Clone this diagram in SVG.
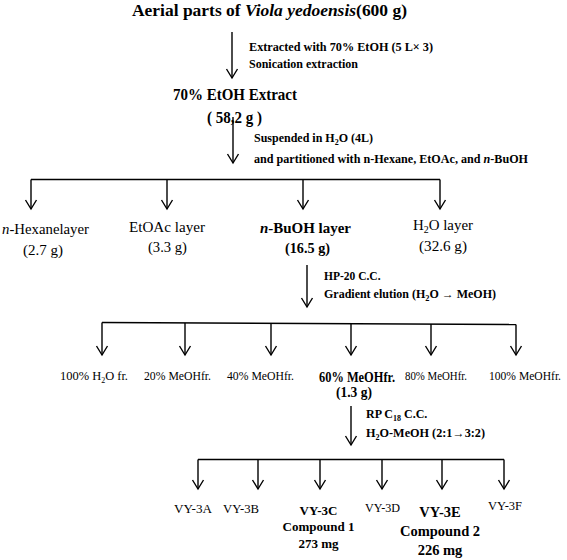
<svg xmlns="http://www.w3.org/2000/svg" width="567" height="560" viewBox="0 0 567 560">
<defs>
<marker id="ah" markerUnits="userSpaceOnUse" markerWidth="20" markerHeight="20" refX="0" refY="0" orient="auto" overflow="visible">
<path d="M-9,-5.5 L0,0 L-9,5.5" fill="none" stroke="#000" stroke-width="1.4"/>
</marker>
</defs>
<style>
text{font-family:"Liberation Serif","Times New Roman",serif;fill:#000}
.b{font-weight:bold}
.i{font-style:italic}
.ln{stroke:#000;stroke-width:1.4;fill:none}
.ar{stroke:#000;stroke-width:1.4;fill:none;marker-end:url(#ah)}
</style>
<rect width="567" height="560" fill="#fff"/>
<g id="connectors">
<line class="ar" x1="232" y1="32" x2="232" y2="78"/>
<line class="ar" x1="233" y1="117" x2="233" y2="163"/>
<line class="ln" x1="31" y1="179.5" x2="440" y2="179.5"/>
<line class="ar" x1="31" y1="179.5" x2="31" y2="209"/>
<line class="ar" x1="167" y1="179.5" x2="167" y2="209"/>
<line class="ar" x1="303" y1="179.5" x2="303" y2="209"/>
<line class="ar" x1="440" y1="179.5" x2="440" y2="209"/>
<line class="ar" x1="307" y1="265" x2="307" y2="307"/>
<line class="ln" x1="102" y1="322.5" x2="516" y2="324.5"/>
<line class="ar" x1="102" y1="322.5" x2="102" y2="355"/>
<line class="ar" x1="185" y1="323" x2="185" y2="355"/>
<line class="ar" x1="271" y1="323.5" x2="271" y2="355"/>
<line class="ar" x1="351" y1="323.5" x2="351" y2="355"/>
<line class="ar" x1="431" y1="324" x2="431" y2="355"/>
<line class="ar" x1="516" y1="324.5" x2="516" y2="355"/>
<line class="ar" x1="351" y1="406" x2="351" y2="445"/>
<line class="ln" x1="198" y1="459.5" x2="504" y2="459.5"/>
<line class="ar" x1="198" y1="459.5" x2="198" y2="489"/>
<line class="ar" x1="258" y1="459.5" x2="258" y2="489"/>
<line class="ar" x1="320" y1="459.5" x2="320" y2="489"/>
<line class="ar" x1="382" y1="459.5" x2="382" y2="489"/>
<line class="ar" x1="442" y1="459.5" x2="442" y2="489"/>
<line class="ar" x1="504" y1="459.5" x2="504" y2="489"/>
</g>
<g id="step-labels" class="b" font-size="12">
<text x="249" y="51" textLength="184" lengthAdjust="spacingAndGlyphs">Extracted with 70% EtOH (5 L× 3)</text>
<text x="249" y="68" textLength="109" lengthAdjust="spacingAndGlyphs">Sonication extraction</text>
<text x="254" y="142" textLength="119" lengthAdjust="spacingAndGlyphs">Suspended in H<tspan font-size="8" dy="3">2</tspan><tspan dy="-3">O (4L)</tspan></text>
<text x="254" y="163" textLength="274" lengthAdjust="spacingAndGlyphs">and partitioned with n-Hexane, EtOAc, and <tspan class="i">n</tspan>-BuOH</text>
<text x="324" y="280" font-size="11.5">HP-20 C.C.</text>
<text x="324" y="298" font-size="11.5" textLength="172" lengthAdjust="spacingAndGlyphs">Gradient elution (H<tspan font-size="8" dy="3">2</tspan><tspan dy="-3">O → MeOH)</tspan></text>
<text x="366" y="418" font-size="12">RP C<tspan font-size="8" dy="3">18</tspan><tspan dy="-3"> C.C.</tspan></text>
<text x="366" y="437" font-size="12" textLength="119" lengthAdjust="spacingAndGlyphs">H<tspan font-size="8" dy="3">2</tspan><tspan dy="-3">O-MeOH (2:1→3:2)</tspan></text>
</g>
<g id="n-start">
<text class="b" x="132" y="16" font-size="17" textLength="275" lengthAdjust="spacingAndGlyphs">Aerial parts of <tspan class="i">Viola yedoensis</tspan>(600 g)</text>
</g>
<g id="n-extract" class="b" font-size="16">
<text x="173" y="100" textLength="124" lengthAdjust="spacingAndGlyphs">70% EtOH Extract</text>
<text x="207" y="123" textLength="55" lengthAdjust="spacingAndGlyphs">( 58,2 g )</text>
</g>
<g id="n-hexane" font-size="15">
<text x="2" y="234" textLength="87" lengthAdjust="spacingAndGlyphs"><tspan class="i">n</tspan>-Hexanelayer</text>
<text x="23" y="255" textLength="40" lengthAdjust="spacingAndGlyphs">(2.7 g)</text>
</g>
<g id="n-etoac" font-size="15">
<text x="129" y="232" textLength="76" lengthAdjust="spacingAndGlyphs">EtOAc layer</text>
<text x="148" y="252" textLength="39" lengthAdjust="spacingAndGlyphs">(3.3 g)</text>
</g>
<g id="n-buoh" class="b" font-size="15">
<text x="260" y="233" textLength="91" lengthAdjust="spacingAndGlyphs"><tspan class="i">n</tspan>-BuOH layer</text>
<text x="285" y="253" textLength="45" lengthAdjust="spacingAndGlyphs">(16.5 g)</text>
</g>
<g id="n-h2o" font-size="15">
<text x="413" y="230" textLength="60" lengthAdjust="spacingAndGlyphs">H<tspan font-size="10" dy="3">2</tspan><tspan dy="-3">O layer</tspan></text>
<text x="419" y="251" textLength="48" lengthAdjust="spacingAndGlyphs">(32.6 g)</text>
</g>
<g id="n-f100w" font-size="12.5">
<text x="60" y="380" textLength="68" lengthAdjust="spacingAndGlyphs">100% H<tspan font-size="8" dy="3">2</tspan><tspan dy="-3">O fr.</tspan></text>
</g>
<g id="n-f20" font-size="12.5">
<text x="144" y="380" textLength="67" lengthAdjust="spacingAndGlyphs">20% MeOHfr.</text>
</g>
<g id="n-f40" font-size="12.5">
<text x="227" y="380" textLength="67" lengthAdjust="spacingAndGlyphs">40% MeOHfr.</text>
</g>
<g id="n-f60" class="b" font-size="14">
<text x="319" y="382" textLength="76" lengthAdjust="spacingAndGlyphs">60% MeOHfr.</text>
<text x="336" y="397" textLength="36" lengthAdjust="spacingAndGlyphs">(1.3 g)</text>
</g>
<g id="n-f80" font-size="12.5">
<text x="405" y="380" textLength="62" lengthAdjust="spacingAndGlyphs">80% MeOHfr.</text>
</g>
<g id="n-f100m" font-size="12.5">
<text x="489" y="380" textLength="72" lengthAdjust="spacingAndGlyphs">100% MeOHfr.</text>
</g>
<g id="n-vy3a" font-size="12.5">
<text x="174" y="513" textLength="38" lengthAdjust="spacingAndGlyphs">VY-3A</text>
</g>
<g id="n-vy3b" font-size="12.5">
<text x="223" y="513" textLength="36" lengthAdjust="spacingAndGlyphs">VY-3B</text>
</g>
<g id="n-vy3c" class="b" font-size="13" text-anchor="middle">
<text x="318.5" y="515">VY-3C</text>
<text x="318.5" y="531">Compound 1</text>
<text x="318.5" y="548">273 mg</text>
</g>
<g id="n-vy3d" font-size="12.5">
<text x="365" y="512" textLength="35" lengthAdjust="spacingAndGlyphs">VY-3D</text>
</g>
<g id="n-vy3e" class="b" font-size="14.5" text-anchor="middle">
<text x="440" y="517">VY-3E</text>
<text x="440" y="536">Compound 2</text>
<text x="440" y="555">226 mg</text>
</g>
<g id="n-vy3f" font-size="12.5">
<text x="488" y="510" textLength="34" lengthAdjust="spacingAndGlyphs">VY-3F</text>
</g>
</svg>
